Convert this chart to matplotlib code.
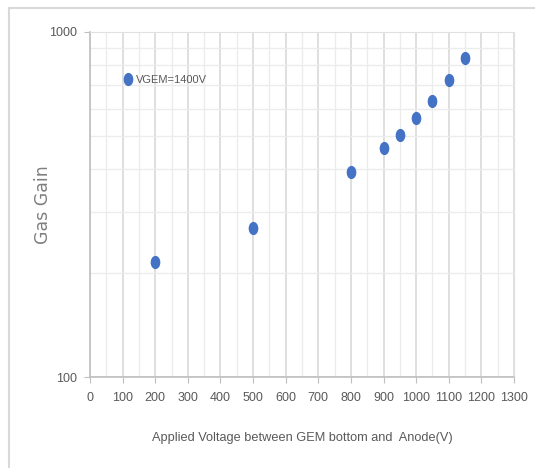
import numpy as np
import matplotlib
matplotlib.use('Agg')
from matplotlib import pyplot as plt
from matplotlib.path import Path
from matplotlib.lines import Line2D
from matplotlib.ticker import FixedLocator, NullFormatter, MultipleLocator

#   Dati
voltage = [200, 500, 800, 900, 950, 1000, 1050, 1100, 1150]
gain = [215, 270, 393, 461, 503, 562, 631, 726, 841]
series_name = 'VGEM=1400V'
xticks = list(range(0, 1301, 100))

plt.rcParams['font.family'] = ['Liberation Sans', 'DejaVu Sans']
grey = '#595959'
blue = '#4472C4'

#   Marcatore ellittico (immagine compressa in orizzontale)
circ = Path.unit_circle()
ellipse = Path(circ.vertices * np.array([0.7, 1.0]), circ.codes)

fig = plt.figure(figsize=(5.35, 4.68), dpi=100)
W, H = 535, 468
#   Bordo esterno (solo lato superiore e sinistro visibili)
fig.add_artist(Line2D([9 / W, 1.0], [1 - 8 / H, 1 - 8 / H],
                      transform=fig.transFigure, color='#d9d9d9', lw=1.5))
fig.add_artist(Line2D([9 / W, 9 / W], [0.0, 1 - 8 / H],
                      transform=fig.transFigure, color='#d9d9d9', lw=1.5))
ax = fig.add_axes([90 / W, 1 - 377 / H, (514 - 90) / W, (377 - 32) / H])

ax.plot(voltage, gain, linestyle='none', marker=ellipse, markersize=8.5,
        color=blue, label=series_name)

ax.set_yscale('log')
ax.set_xlim(0, 1300)
ax.set_ylim(100, 1000)
ax.xaxis.set_major_locator(FixedLocator(xticks))
ax.xaxis.set_minor_locator(MultipleLocator(50))
ax.yaxis.set_major_locator(FixedLocator([100, 1000]))
ax.yaxis.set_minor_locator(FixedLocator([200, 300, 400, 500, 600, 700, 800, 900]))
ax.yaxis.set_minor_formatter(NullFormatter())
ax.set_yticklabels(['100', '1000'])

ax.grid(which='major', color='#d9d9d9', linewidth=1.2)
ax.grid(which='minor', color='#ececec', linewidth=1.0)
ax.set_axisbelow(True)

for s in ['top', 'right']:
    ax.spines[s].set_color('#e0e0e0')
for s in ['left', 'bottom']:
    ax.spines[s].set_color('#bfbfbf')
    ax.spines[s].set_linewidth(1.2)
ax.tick_params(which='major', length=4, color='#bfbfbf', labelcolor=grey,
               labelsize=9, pad=7)
ax.tick_params(axis='y', which='major', pad=5)
ax.tick_params(which='minor', length=0)

ax.set_xlabel('Applied Voltage between GEM bottom and  Anode(V)',
              fontsize=9.2, color=grey, labelpad=20)
ax.set_ylabel('Gas Gain', fontsize=12.5, color='#7f7f7f', family='DejaVu Sans')
ax.yaxis.set_label_coords(-0.09, 0.5)

ax.legend(loc='upper left', bbox_to_anchor=(0.065, 0.889), frameon=False,
          fontsize=8, labelcolor=grey, handletextpad=0.3,
          handlelength=1.0, borderaxespad=0)

fig.savefig('out.png', dpi=100)
